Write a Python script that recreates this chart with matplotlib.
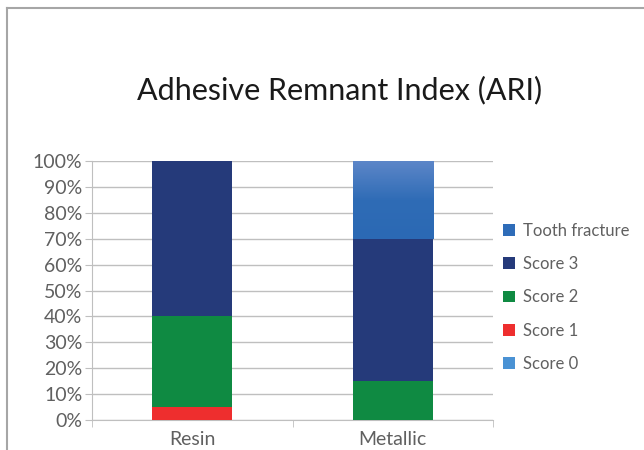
import matplotlib
matplotlib.use("Agg")
import matplotlib.pyplot as plt
import numpy as np
from matplotlib.lines import Line2D
from matplotlib.colors import LinearSegmentedColormap

categories = ["Resin", "Metallic"]
series_names = ["Score 0", "Score 1", "Score 2", "Score 3", "Tooth fracture"]
score0 = [0, 0]
score1 = [5, 0]
score2 = [35, 15]
score3 = [60, 55]
tooth_fracture = [0, 30]
yticks = [0, 10, 20, 30, 40, 50, 60, 70, 80, 90, 100]

colors = ["#4a92d4", "#ee2e2e", "#0f8a42", "#253a7a", "#2e6cb8"]

plt.rcParams['font.family'] = ['Lato', 'DejaVu Sans']

fig = plt.figure(figsize=(6.44, 4.5), dpi=100)
ax = fig.add_axes([92/644, 1-420/450, 401/644, 259/450])

x = np.arange(len(categories))
bottom = np.zeros(len(categories))
handles = []
for name, vals, c in zip(series_names, [score0, score1, score2, score3, tooth_fracture], colors):
    vals = np.array(vals, dtype=float)
    bars = ax.bar(x, vals, 0.4, bottom=bottom, color=c, zorder=3, label=name)
    if name == "Tooth fracture":
        for b in bars:
            h = b.get_height()
            if h <= 0:
                continue
            x0, y0 = b.get_x(), b.get_y()
            grad = np.linspace(0, 1, 100).reshape(-1, 1)
            cmap = LinearSegmentedColormap.from_list("tf", ["#2b69b4", "#2f6cb6", "#5c86c8"])
            im = ax.imshow(grad, extent=[x0, x0 + b.get_width(), y0, y0 + h],
                           origin="lower", cmap=cmap, aspect="auto", zorder=3.5)
            im.set_clip_path(b)
    bottom += vals
    handles.append(bars)

ax.set_xlim(-0.5, 1.5)
ax.set_ylim(0, 100)
ax.set_yticks(yticks)
ax.set_yticklabels([f"{v}%" for v in yticks])
ax.set_xticks(x)
ax.set_xticklabels(categories)
ax.set_xticks([-0.5, 0.5, 1.5], minor=True)
ax.tick_params(axis='x', which='major', length=0, labelsize=14, colors='#606060', pad=8)
ax.tick_params(axis='x', which='minor', length=5, color='#bfbfbf', direction='out')
ax.tick_params(axis='y', length=5, color='#bfbfbf', labelsize=14, labelcolor='#606060', pad=2)
ax.grid(axis='y', color='#bfbfbf', linewidth=1, zorder=0)
for s in ['top', 'right']:
    ax.spines[s].set_visible(False)
ax.spines['left'].set_color('#bfbfbf')
ax.spines['bottom'].set_color('#bfbfbf')
ax.set_axisbelow(True)

leg = fig.legend(handles[::-1], series_names[::-1], loc='upper left',
                 bbox_to_anchor=(488/644, 1-208/450), frameon=False,
                 fontsize=12, labelspacing=1.03, handlelength=0.7, handleheight=0.7,
                 handletextpad=0.5, labelcolor='#606060')

fig.text(340/644, 1-90/450, "Adhesive Remnant Index (ARI)", ha='center', va='center',
         fontsize=22, color='#1a1a1a')

fig.add_artist(Line2D([7/644, 7/644], [0, 1-8/450], color='#a6a6a6', linewidth=1.5, transform=fig.transFigure))
fig.add_artist(Line2D([7/644, 1], [1-8/450, 1-8/450], color='#a6a6a6', linewidth=1.5, transform=fig.transFigure))

fig.savefig("out.png", dpi=100)
